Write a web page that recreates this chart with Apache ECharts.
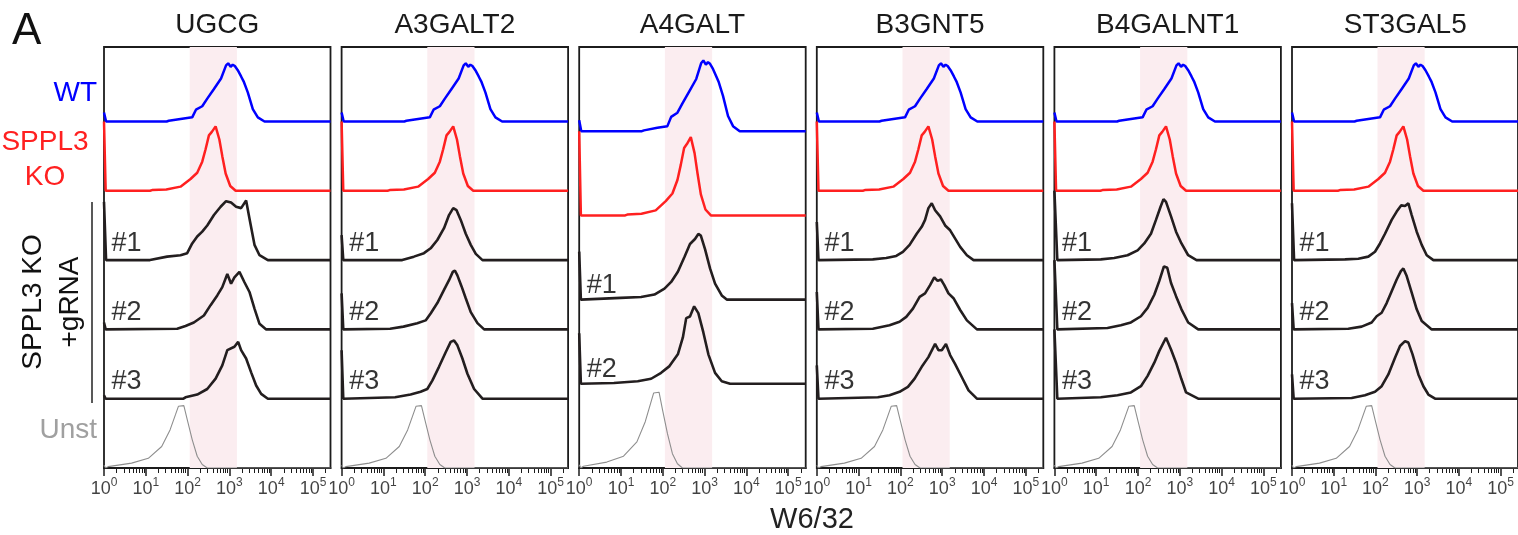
<!DOCTYPE html>
<html>
<head>
<meta charset="utf-8">
<script src="https://cdn.jsdelivr.net/npm/echarts@6.0.0/dist/echarts.min.js"></script>
<style>
html, body { margin: 0; padding: 0; background: #fff; }
#chart { width: 1518px; height: 535px; }
</style>
</head>
<body>
<div id="chart"></div>
<script>
// log10 of the cytometer's top channel (262144)
const LOG_MAX = Math.log10(262144);
const FONT = 'Arial';

const panelNames = ['UGCG', 'A3GALT2', 'A4GALT', 'B3GNT5', 'B4GALNT1', 'ST3GAL5'];
const decadeExponents = [0, 1, 2, 3, 4, 5];
const band = [2.05, 3.18]; // shaded range, log10 units

// histogram traces: [log10 intensity, height as fraction of a track]
const WT = [[0, 0.13], [0.05, 0], [1.5, 0], [1.55, 0.01], [1.87, 0.04], [2.11, 0.06], [2.2, 0.17], [2.35, 0.22],
  [2.47, 0.33], [2.63, 0.47], [2.8, 0.62], [2.92, 0.81], [2.97, 0.84], [3.03, 0.79], [3.08, 0.82], [3.13, 0.8],
  [3.2, 0.74], [3.28, 0.65], [3.34, 0.58], [3.44, 0.42], [3.56, 0.18], [3.68, 0.06], [3.84, 0], [LOG_MAX, 0]];
const KO = [[0, 1.0], [0.04, 0], [1.1, 0], [1.15, 0.01], [1.49, 0.02], [1.83, 0.06], [2.07, 0.17], [2.23, 0.26],
  [2.35, 0.42], [2.43, 0.6], [2.51, 0.8], [2.58, 0.85], [2.62, 0.87], [2.67, 0.93], [2.71, 0.91], [2.76, 0.74],
  [2.83, 0.5], [2.91, 0.25], [3.02, 0.07], [3.15, 0], [LOG_MAX, 0]];
const UNST = [[0, 0.04], [0.04, 0], [0.1, 0.02], [0.66, 0.07], [1.06, 0.14], [1.38, 0.31], [1.58, 0.55],
  [1.71, 0.77], [1.78, 0.89], [1.91, 0.9], [1.99, 0.7], [2.11, 0.41], [2.23, 0.17], [2.35, 0.05], [2.47, 0], [LOG_MAX, 0]];

const UGCG_1 = [[0, 0.84], [0.05, 0], [1.1, 0], [1.11, 0.02], [1.51, 0.05], [1.83, 0.07], [1.99, 0.1], [2.11, 0.24],
  [2.23, 0.34], [2.35, 0.41], [2.47, 0.5], [2.63, 0.65], [2.79, 0.77], [2.92, 0.85], [3.04, 0.83], [3.16, 0.77],
  [3.28, 0.75], [3.4, 0.86], [3.48, 0.6], [3.6, 0.22], [3.72, 0.07], [3.92, 0], [LOG_MAX, 0]];
const UGCG_2 = [[0, 0.1], [0.04, 0], [1.75, 0.01], [1.95, 0.05], [2.15, 0.1], [2.39, 0.2], [2.55, 0.35], [2.71, 0.49],
  [2.83, 0.61], [2.95, 0.8], [3.04, 0.66], [3.12, 0.75], [3.24, 0.83], [3.36, 0.68], [3.48, 0.54], [3.6, 0.3],
  [3.72, 0.08], [3.88, 0], [LOG_MAX, 0]];
const UGCG_3 = [[0, 0.05], [0.04, 0], [1.9, 0], [1.95, 0.02], [2.23, 0.06], [2.47, 0.14], [2.67, 0.29], [2.83, 0.48],
  [2.95, 0.7], [3.12, 0.75], [3.21, 0.82], [3.28, 0.7], [3.4, 0.58], [3.52, 0.38], [3.64, 0.19], [3.76, 0.07],
  [3.92, 0], [LOG_MAX, 0]];

const A3GALT2_1 = [[0, 0.36], [0.04, 0], [1.45, 0], [1.48, 0.02], [1.73, 0.05], [1.97, 0.1], [2.13, 0.17], [2.29, 0.29],
  [2.45, 0.46], [2.57, 0.65], [2.67, 0.75], [2.75, 0.72], [2.85, 0.58], [2.97, 0.38], [3.09, 0.22], [3.21, 0.09],
  [3.37, 0], [LOG_MAX, 0]];
const A3GALT2_2 = [[0, 0.52], [0.04, 0], [1.16, 0.01], [1.48, 0.04], [1.81, 0.09], [2.01, 0.13], [2.13, 0.23],
  [2.29, 0.38], [2.45, 0.57], [2.57, 0.71], [2.66, 0.83], [2.71, 0.85], [2.77, 0.78], [2.87, 0.62], [2.97, 0.45],
  [3.09, 0.25], [3.25, 0.09], [3.41, 0], [LOG_MAX, 0]];
const A3GALT2_3 = [[0, 0.7], [0.04, 0], [1.28, 0.02], [1.65, 0.06], [1.89, 0.1], [2.05, 0.14], [2.17, 0.26],
  [2.33, 0.46], [2.49, 0.67], [2.61, 0.82], [2.69, 0.84], [2.77, 0.77], [2.89, 0.58], [3.01, 0.36], [3.17, 0.14],
  [3.37, 0], [LOG_MAX, 0]];

const A4GALT_1 = [[0, 0.57], [0.04, 0], [0.99, 0.02], [1.48, 0.03], [1.8, 0.06], [2.04, 0.13], [2.2, 0.21],
  [2.36, 0.33], [2.52, 0.51], [2.65, 0.66], [2.77, 0.72], [2.85, 0.78], [2.91, 0.76], [3.01, 0.6], [3.13, 0.37],
  [3.25, 0.19], [3.41, 0.05], [3.53, 0], [LOG_MAX, 0]];
const A4GALT_2 = [[0, 0.6], [0.04, 0], [0.83, 0.01], [1.4, 0.03], [1.72, 0.06], [1.96, 0.13], [2.16, 0.21],
  [2.36, 0.35], [2.48, 0.55], [2.56, 0.78], [2.65, 0.8], [2.75, 0.92], [2.85, 0.84], [2.97, 0.61], [3.09, 0.35],
  [3.25, 0.13], [3.41, 0.03], [3.61, 0], [LOG_MAX, 0]];

const B3GNT5_1 = [[0, 0.55], [0.04, 0], [1.34, 0.01], [1.66, 0.03], [1.9, 0.06], [2.06, 0.12], [2.22, 0.22],
  [2.39, 0.38], [2.51, 0.48], [2.59, 0.58], [2.67, 0.75], [2.75, 0.82], [2.83, 0.72], [2.95, 0.63], [3.07, 0.5],
  [3.19, 0.43], [3.31, 0.31], [3.43, 0.19], [3.59, 0.07], [3.75, 0], [LOG_MAX, 0]];
const B3GNT5_2 = [[0, 0.54], [0.04, 0], [1.34, 0.01], [1.74, 0.06], [1.98, 0.11], [2.14, 0.18], [2.3, 0.3],
  [2.46, 0.47], [2.59, 0.52], [2.71, 0.64], [2.81, 0.75], [2.89, 0.7], [2.97, 0.72], [3.05, 0.64], [3.15, 0.52],
  [3.27, 0.45], [3.43, 0.28], [3.59, 0.13], [3.83, 0], [LOG_MAX, 0]];
const B3GNT5_3 = [[0, 0.48], [0.04, 0], [1.46, 0.02], [1.74, 0.05], [1.98, 0.1], [2.18, 0.17], [2.34, 0.29],
  [2.51, 0.46], [2.67, 0.6], [2.83, 0.79], [2.91, 0.7], [2.99, 0.7], [3.09, 0.79], [3.19, 0.63], [3.31, 0.5],
  [3.47, 0.31], [3.63, 0.12], [3.83, 0], [LOG_MAX, 0]];

const B4GALNT1_1 = [[0, 1.0], [0.07, 0], [1.11, 0.01], [1.43, 0.03], [1.75, 0.07], [1.99, 0.14], [2.15, 0.24],
  [2.31, 0.38], [2.43, 0.58], [2.54, 0.77], [2.61, 0.88], [2.67, 0.84], [2.79, 0.63], [2.91, 0.41], [3.04, 0.24],
  [3.2, 0.07], [3.4, 0], [LOG_MAX, 0]];
const B4GALNT1_2 = [[0, 1.0], [0.07, 0], [1.27, 0.02], [1.59, 0.06], [1.83, 0.1], [2.07, 0.19], [2.23, 0.31],
  [2.39, 0.5], [2.51, 0.7], [2.62, 0.91], [2.7, 0.89], [2.79, 0.67], [2.91, 0.48], [3.04, 0.29], [3.2, 0.1],
  [3.44, 0], [LOG_MAX, 0]];
const B4GALNT1_3 = [[0, 1.0], [0.07, 0], [1.11, 0.02], [1.51, 0.05], [1.83, 0.09], [2.07, 0.18], [2.23, 0.33],
  [2.39, 0.52], [2.51, 0.69], [2.67, 0.88], [2.79, 0.71], [2.91, 0.52], [3.04, 0.28], [3.15, 0.09], [3.44, 0],
  [LOG_MAX, 0]];

const ST3GAL5_1 = [[0, 0.82], [0.05, 0], [1.27, 0.01], [1.59, 0.02], [1.83, 0.05], [1.99, 0.12], [2.11, 0.24],
  [2.23, 0.38], [2.39, 0.58], [2.51, 0.7], [2.62, 0.79], [2.71, 0.78], [2.79, 0.82], [2.87, 0.65], [2.99, 0.41],
  [3.11, 0.22], [3.23, 0.07], [3.39, 0], [LOG_MAX, 0]];
const ST3GAL5_2 = [[0, 0.38], [0.04, 0], [1.35, 0.01], [1.67, 0.04], [1.91, 0.1], [2.03, 0.19], [2.15, 0.24],
  [2.27, 0.38], [2.39, 0.55], [2.51, 0.72], [2.61, 0.84], [2.67, 0.88], [2.75, 0.77], [2.87, 0.53], [2.99, 0.29],
  [3.11, 0.12], [3.35, 0], [LOG_MAX, 0]];
const ST3GAL5_3 = [[0, 0.35], [0.04, 0], [1.43, 0.01], [1.75, 0.05], [1.99, 0.1], [2.15, 0.18], [2.31, 0.35],
  [2.47, 0.59], [2.59, 0.76], [2.71, 0.83], [2.79, 0.81], [2.89, 0.64], [3.03, 0.35], [3.15, 0.18], [3.27, 0.06],
  [3.43, 0], [LOG_MAX, 0]];

const gRNAs = [
  [UGCG_1, UGCG_2, UGCG_3],
  [A3GALT2_1, A3GALT2_2, A3GALT2_3],
  [A4GALT_1, A4GALT_2],
  [B3GNT5_1, B3GNT5_2, B3GNT5_3],
  [B4GALNT1_1, B4GALNT1_2, B4GALNT1_3],
  [ST3GAL5_1, ST3GAL5_2, ST3GAL5_3],
];

// layout
const PANEL_LEFT = 104, PANEL_STEP = 237.6, PANEL_W = 226.5, PANEL_TOP = 47, PANEL_H = 421;
const INK = '#1c1c1c';
const COLORS = { wt: '#0000ff', ko: '#ff2020', grna: '#231e1f', unst: '#8e8e8e' };

const minorTicks = [];
decadeExponents.forEach(d => {
  for (let k = 2; k <= 9; k++) {
    const v = d + Math.log10(k);
    if (v <= LOG_MAX) minorTicks.push(v);
  }
});

const chart = echarts.init(document.getElementById('chart'));

const grid = [], xAxis = [], yAxis = [], series = [], graphic = [];

const lineSeries = (i, data, offset, color, width, z) => ({
  type: 'line',
  xAxisIndex: 2 * i,
  yAxisIndex: i,
  data: data.map(([x, h]) => [x, offset + h]),
  symbol: 'none',
  lineStyle: { color: color, width: width },
  z: z,
  silent: true,
});

panelNames.forEach((name, i) => {
  const left = PANEL_LEFT + i * PANEL_STEP;
  const guides = gRNAs[i];
  const n = guides.length;
  const yMax = n === 3 ? 6.075 : 5.0;
  const lift = n === 3 ? 0.245 : 0.17;

  grid.push({ left: left, top: PANEL_TOP, width: PANEL_W, height: PANEL_H,
    show: true, borderColor: INK, borderWidth: 1.8 });

  xAxis.push({
    type: 'value', gridIndex: i, position: 'bottom', offset: 0, min: 0, max: LOG_MAX,
    axisLine: { show: true, lineStyle: { color: INK, width: 1.8 } },
    axisTick: { show: true, customValues: decadeExponents, length: 8, lineStyle: { color: INK, width: 1.5 } },
    axisLabel: { show: false },
    splitLine: { show: false },
  });
  xAxis.push({
    type: 'value', gridIndex: i, position: 'bottom', offset: 0, min: 0, max: LOG_MAX,
    axisLine: { show: false },
    axisTick: { show: true, customValues: minorTicks, length: 5, lineStyle: { color: INK, width: 1 } },
    axisLabel: { show: false },
    splitLine: { show: false },
  });
  yAxis.push({ type: 'value', gridIndex: i, min: 0, max: yMax, show: false });

  // shaded band
  series.push({
    type: 'line', xAxisIndex: 2 * i, yAxisIndex: i, data: [[band[0], 0]],
    symbol: 'none', lineStyle: { opacity: 0 }, z: 1, silent: true,
    markArea: { silent: true, itemStyle: { color: '#fbedf0' },
      data: [[{ xAxis: band[0] }, { xAxis: band[1] }]] },
  });

  // tracks from the top: WT, SPPL3 KO, gRNA #1.., Unst at the bottom
  series.push(lineSeries(i, WT, n + 2, COLORS.wt, 2.5, 3));
  series.push(lineSeries(i, KO, n + 1, COLORS.ko, 2.5, 3));
  guides.forEach((g, k) => series.push(lineSeries(i, g, n - k, COLORS.grna, 2.6, 3)));
  series.push(lineSeries(i, UNST, 0, COLORS.unst, 1.1, 3));

  // "#1", "#2" ... labels placed on the tracks
  series.push({
    type: 'scatter', xAxisIndex: 2 * i, yAxisIndex: i, silent: true, z: 5,
    symbolSize: 1, itemStyle: { color: 'rgba(0,0,0,0)' },
    data: guides.map((g, k) => [0.17, n - k + lift]),
    label: { show: true, position: 'right', distance: 0, fontSize: 27, fontFamily: FONT, color: '#000',
      formatter: p => '#' + (p.dataIndex + 1) },
  });

  // decade labels 10^0 .. 10^5 under the axis
  series.push({
    type: 'scatter', xAxisIndex: 2 * i, yAxisIndex: i, silent: true, z: 5, clip: false,
    symbolSize: 1, itemStyle: { color: 'rgba(0,0,0,0)' },
    data: decadeExponents.map(d => [d, 0]),
    label: {
      show: true, position: 'bottom', distance: 8, fontSize: 18, fontFamily: FONT, color: '#111',
      formatter: p => '{b|10}{s|' + decadeExponents[p.dataIndex] + '}',
      rich: {
        b: { fontSize: 18, fontFamily: FONT, color: '#111', lineHeight: 22, verticalAlign: 'bottom' },
        s: { fontSize: 12, fontFamily: FONT, color: '#111', lineHeight: 22, verticalAlign: 'top' },
      },
    },
  });

  graphic.push({ type: 'text', x: left + PANEL_W / 2, y: 25,
    style: { text: name, fontSize: 28, fontFamily: FONT, fill: '#1a1a1a', align: 'center', verticalAlign: 'middle' } });
});

graphic.push(
  { type: 'text', x: 12, y: 32, style: { text: 'A', fontSize: 44, fontFamily: FONT, fill: '#111', align: 'left', verticalAlign: 'middle' } },
  { type: 'text', x: 97, y: 93, style: { text: 'WT', fontSize: 28, fontFamily: FONT, fill: COLORS.wt, align: 'right', verticalAlign: 'middle' } },
  { type: 'text', x: 45, y: 160, style: { text: 'SPPL3\nKO', fontSize: 28, lineHeight: 35, fontFamily: FONT, fill: COLORS.ko, align: 'center', verticalAlign: 'middle' } },
  { type: 'text', x: 97, y: 430, style: { text: 'Unst', fontSize: 28, fontFamily: FONT, fill: '#a0a0a0', align: 'right', verticalAlign: 'middle' } },
  { type: 'text', x: 52, y: 302, rotation: Math.PI / 2,
    style: { text: 'SPPL3 KO\n+gRNA', fontSize: 28, lineHeight: 37, fontFamily: FONT, fill: '#111', align: 'center', verticalAlign: 'middle' } },
  { type: 'line', shape: { x1: 92, y1: 202, x2: 92, y2: 403 }, style: { stroke: '#222', lineWidth: 1.5 } },
  { type: 'text', x: 812, y: 520, style: { text: 'W6/32', fontSize: 29, fontFamily: FONT, fill: '#222', align: 'center', verticalAlign: 'middle' } }
);

chart.setOption({
  animation: false,
  grid: grid,
  xAxis: xAxis,
  yAxis: yAxis,
  series: series,
  graphic: graphic,
});
</script>
</body>
</html>
